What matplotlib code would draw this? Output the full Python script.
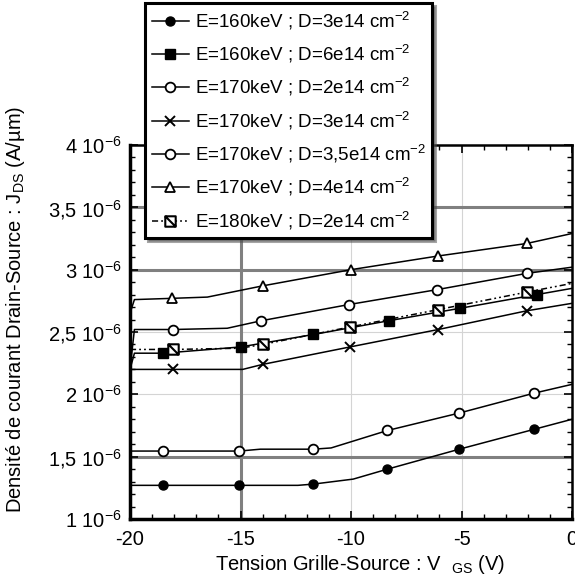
import numpy as np
import matplotlib
matplotlib.use("Agg")
from matplotlib import pyplot as plt
from matplotlib.path import Path

plt.rcParams['font.family'] = ['Liberation Sans', 'DejaVu Sans']
plt.rcParams['mathtext.fontset'] = 'custom'
plt.rcParams['mathtext.rm'] = 'Liberation Sans'
plt.rcParams['mathtext.it'] = 'Liberation Sans'

# curves read off the figure : V_GS (V) and J_DS (in 1e-6 A/um)
# markevery = indices of the points that carry a marker
vgs_160_3 = [-20, -18.5, -15.05, -12.4, -11.7, -9.9, -8.35, -5.1, -1.7, 0]
jds_160_3 = [1.27, 1.27, 1.27, 1.27, 1.28, 1.32, 1.40, 1.56, 1.72, 1.80]
mk_160_3 = [1, 2, 4, 6, 7, 8]

vgs_160_6 = [-20, -19.8, -18.5, -15.0, -11.7, -8.3, -5.07, -1.6, 0]
jds_160_6 = [2.2, 2.33, 2.33, 2.38, 2.48, 2.59, 2.69, 2.80, 2.85]
mk_160_6 = [2, 3, 4, 5, 6, 7]

vgs_170_2 = [-20, -18.5, -15.05, -14.1, -11.7, -10.9, -8.35, -5.1, -1.7, 0]
jds_170_2 = [1.545, 1.545, 1.545, 1.56, 1.56, 1.57, 1.71, 1.85, 2.01, 2.08]
mk_170_2 = [1, 2, 4, 6, 7, 8]

vgs_170_3 = [-20, -18.05, -14.9, -14.0, -10.05, -6.05, -2.05, 0]
jds_170_3 = [2.20, 2.20, 2.20, 2.24, 2.38, 2.52, 2.67, 2.73]
mk_170_3 = [1, 3, 4, 5, 6]

vgs_170_35 = [-20, -19.8, -18.05, -15.6, -14.07, -10.1, -6.1, -2.05, 0]
jds_170_35 = [2.2, 2.52, 2.52, 2.53, 2.59, 2.72, 2.84, 2.97, 3.02]
mk_170_35 = [2, 4, 5, 6, 7]

vgs_170_4 = [-20, -19.8, -18.1, -16.5, -14.0, -10.0, -6.05, -2.05, 0]
jds_170_4 = [2.65, 2.76, 2.77, 2.78, 2.87, 3.0, 3.11, 3.21, 3.29]
mk_170_4 = [2, 4, 5, 6, 7]

vgs_180_2 = [-20, -18.05, -15.0, -14.0, -10.05, -6.05, -2.05, 0]
jds_180_2 = [2.36, 2.36, 2.37, 2.40, 2.54, 2.68, 2.82, 2.89]
mk_180_2 = [1, 3, 4, 5, 6]

labels = ['E=160keV ; D=3e14 cm$^{-2}$',
          'E=160keV ; D=6e14 cm$^{-2}$',
          'E=170keV ; D=2e14 cm$^{-2}$',
          'E=170keV ; D=3e14 cm$^{-2}$',
          'E=170keV ; D=3,5e14 cm$^{-2}$',
          'E=170keV ; D=4e14 cm$^{-2}$',
          'E=180keV ; D=2e14 cm$^{-2}$']

y_ticks = [1, 1.5, 2, 2.5, 3, 3.5, 4]
y_ticklabels = ['1 10$^{-6}$', '1,5 10$^{-6}$', '2 10$^{-6}$', '2,5 10$^{-6}$',
                '3 10$^{-6}$', '3,5 10$^{-6}$', '4 10$^{-6}$']
x_ticks = [-20, -15, -10, -5, 0]

# square with a diagonal, for the 180 keV curve
half_sq = Path([(-1, -1), (1, -1), (1, 1), (-1, 1), (-1, -1), (-1, 1), (1, -1)],
               [Path.MOVETO, Path.LINETO, Path.LINETO, Path.LINETO,
                Path.CLOSEPOLY, Path.MOVETO, Path.LINETO])

fs = 14.5
fig = plt.figure(figsize=(5.75, 5.85), dpi=100)
ax = fig.add_axes([130 / 575, 1 - 519 / 585, 442 / 575, 374 / 585])

# grid : some lines thick and dark, the others thin and light
for x in [-10, -5]:
    ax.axvline(x, color='#d4d4d4', lw=0.8, zorder=0)
for y in [2, 2.5]:
    ax.axhline(y, color='#d4d4d4', lw=0.8, zorder=0)
ax.axvline(-15, color='#808080', lw=2.2, zorder=0)
for y in [1.5, 3, 3.5]:
    ax.axhline(y, color='#808080', lw=2.2, zorder=0)

lw = 1.1
ax.plot(vgs_160_3, jds_160_3, '-', color='k', lw=lw, marker='o', ms=6.5,
        markevery=mk_160_3, label=labels[0])
ax.plot(vgs_160_6, jds_160_6, '-', color='k', lw=lw, marker='s', ms=7.5,
        markevery=mk_160_6, label=labels[1])
ax.plot(vgs_170_2, jds_170_2, '-', color='k', lw=lw, marker='o', ms=7,
        mfc='white', mew=1.3, markevery=mk_170_2, label=labels[2])
ax.plot(vgs_170_3, jds_170_3, '-', color='k', lw=lw, marker='x', ms=7.5,
        mew=1.4, markevery=mk_170_3, label=labels[3])
ax.plot(vgs_170_35, jds_170_35, '-', color='k', lw=lw, marker='o', ms=7,
        mfc='white', mew=1.3, markevery=mk_170_35, label=labels[4])
ax.plot(vgs_170_4, jds_170_4, '-', color='k', lw=lw, marker='^', ms=6.5,
        mfc='white', mew=1.3, markevery=mk_170_4, label=labels[5])
ax.plot(vgs_180_2, jds_180_2, color='k', lw=lw, ls=(0, (4, 2, 1.2, 2, 1.2, 2)),
        marker=half_sq, ms=7.5, mfc='white', mew=1.5, markevery=mk_180_2,
        label=labels[6])

ax.set_xlim(-20, 0)
ax.set_ylim(1, 4)
ax.set_xticks(x_ticks)
ax.set_xticklabels(['-20', '-15', '-10', '-5', '0'])
ax.set_yticks(y_ticks)
ax.set_yticklabels(y_ticklabels)
ax.set_xticks(np.arange(-20, 0.5, 1), minor=True)
ax.set_yticks(np.arange(1, 4.05, 0.1), minor=True)
ax.tick_params(which='both', direction='in', top=True, right=True, labelsize=fs)
ax.tick_params(axis='x', which='major', pad=8)
ax.tick_params(axis='y', which='major', pad=6)
ax.tick_params(which='major', length=6, width=1.2)
ax.tick_params(which='minor', length=3.5, width=1.0)
for side in ['left', 'bottom']:
    ax.spines[side].set_linewidth(2.5)
for side in ['top', 'right']:
    ax.spines[side].set_linewidth(1.8)

ax.set_xlabel('Tension Grille-Source : V  $_{GS}$ (V)', fontsize=fs)
ax.set_ylabel('Densité de courant Drain-Source : J$_{DS}$ (A/µm)', fontsize=fs)
ax.xaxis.set_label_coords(0.52, -0.09)
ax.yaxis.set_label_coords(-0.232, 0.56)

leg = ax.legend(loc='upper left', bbox_to_anchor=(145 / 575, 1 - 3 / 585),
                bbox_transform=fig.transFigure, fontsize=13.5, frameon=True,
                fancybox=False, shadow=True, handlelength=2.0,
                labelspacing=0.6, borderpad=0.35, handletextpad=0.3,
                borderaxespad=0)
leg.get_frame().set_edgecolor('k')
leg.get_frame().set_linewidth(2.2)
leg.set_zorder(10)

fig.savefig('out.png', dpi=100)
